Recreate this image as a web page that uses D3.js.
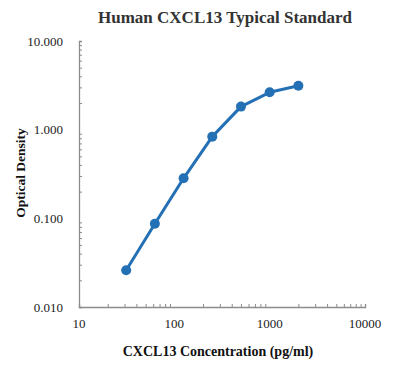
<!DOCTYPE html>
<html><head><meta charset="utf-8">
<script src="https://cdn.jsdelivr.net/npm/d3@7"></script>
<style>body{margin:0;background:#fff}svg{display:block}</style>
</head><body>
<script>
const concentrations = [31.25, 62.5, 125, 250, 500, 1000, 2000];
const odValues = [0.026, 0.087, 0.283, 0.834, 1.82, 2.64, 3.13];
const xTickValues = [10, 100, 1000, 10000];
const xTickLabels = ["10", "100", "1000", "10000"];
const yTickValues = [0.01, 0.1, 1, 10];
const yTickLabels = ["0.010", "0.100", "1.000", "10.000"];

const W = 399, H = 369;
const svg = d3.select("body").append("svg").attr("width", W).attr("height", H);
const x = d3.scaleLog().domain([10, 10000]).range([79, 365]);
const y = d3.scaleLog().domain([0.01, 10]).range([307, 41]);
const serif = "'Liberation Serif','Times New Roman',serif";
const axisColor = "#8c8c8c";

const xMinor = [], yMinor = [];
for (let d = 10; d < 10000; d *= 10) for (let k = 2; k <= 9; k++) xMinor.push(d * k);
for (let d = 0.01; d < 10; d *= 10) for (let k = 2; k <= 9; k++) yMinor.push(+(d * k).toPrecision(3));

const xAxis = svg.append("g").attr("transform", `translate(0,${y(0.01)})`)
  .call(d3.axisBottom(x).tickValues(xMinor).tickSize(-3).tickFormat(""));
const yAxis = svg.append("g").attr("transform", `translate(${x(10)},0)`)
  .call(d3.axisLeft(y).tickValues(yMinor).tickSize(-3).tickFormat(""));
[xAxis, yAxis].forEach(g => {
  g.select(".domain").attr("stroke", axisColor).attr("stroke-width", 1.3);
  g.selectAll(".tick line").attr("stroke", axisColor);
});

svg.append("g").selectAll("text").data(xTickValues).join("text")
  .attr("x", d => x(d)).attr("y", 328).attr("text-anchor", "middle")
  .attr("font-family", serif).attr("font-size", 13).attr("fill", "#222")
  .text((d, i) => xTickLabels[i]);
svg.append("g").selectAll("text").data(yTickValues).join("text")
  .attr("x", 63).attr("y", d => y(d) + 4.5).attr("text-anchor", "end")
  .attr("font-family", serif).attr("font-size", 13).attr("fill", "#222")
  .text((d, i) => yTickLabels[i]);

const color = "#2470b5";
svg.append("path").datum(concentrations.map((c, i) => [c, odValues[i]]))
  .attr("fill", "none").attr("stroke", color).attr("stroke-width", 3).attr("stroke-linejoin", "round")
  .attr("d", d3.line().x(d => x(d[0])).y(d => y(d[1])));
svg.append("g").selectAll("circle").data(concentrations).join("circle")
  .attr("cx", d => x(d)).attr("cy", (d, i) => y(odValues[i])).attr("r", 5).attr("fill", color);

svg.append("text").attr("x", 225).attr("y", 23).attr("text-anchor", "middle")
  .attr("font-family", serif).attr("font-weight", "bold").attr("font-size", 17).attr("fill", "#333")
  .text("Human CXCL13 Typical Standard");
svg.append("text").attr("x", 218).attr("y", 356).attr("text-anchor", "middle")
  .attr("font-family", serif).attr("font-weight", "bold").attr("font-size", 14).attr("fill", "#111")
  .text("CXCL13 Concentration (pg/ml)");
svg.append("text").attr("transform", "translate(25,173) rotate(-90)").attr("text-anchor", "middle")
  .attr("font-family", serif).attr("font-weight", "bold").attr("font-size", 13.5).attr("fill", "#111")
  .text("Optical Density");
</script>
</body></html>
